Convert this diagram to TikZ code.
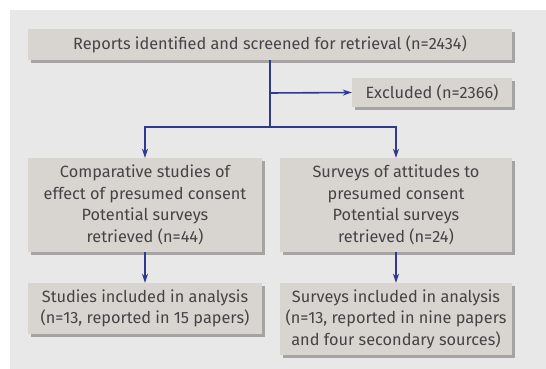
\documentclass[tikz,border=0pt]{standalone}
\usepackage{fontspec}
\setmainfont{Fira Sans}
\usetikzlibrary{arrows.meta}
\definecolor{bgc}{HTML}{E8E8E8}
\definecolor{boxc}{HTML}{D8D4D0}
\definecolor{shadc}{HTML}{A6A4A2}
\definecolor{linec}{HTML}{2E3A8C}
\definecolor{txtc}{HTML}{444444}
\tikzset{
  pbox/.style={fill=boxc, inner sep=0pt, text=txtc, font=\fontsize{16.3}{21.5}\selectfont, align=center},
  conn/.style={draw=linec, line width=1.6pt},
  arr/.style={conn, -{Stealth[length=9pt,width=6pt]}},
}
\newcommand{\pboxat}[6]{% name, x1, y1, x2, y2, text
  \fill[shadc] (#2+3,-#3-3) rectangle (#4+3,-#5-3);
  \node[pbox, minimum width=#4-#2, minimum height=#5-#3] (#1) at ({(#2+#4)/2},{-(#3+#5)/2}) {#6};
}
\begin{document}
\begin{tikzpicture}[x=1pt,y=1pt]
\useasboundingbox (0,0) rectangle (546,-369);
\fill[bgc] (10,-10) rectangle (546,-369);
\pboxat{top}{28}{29}{512}{60}{Reports identified and screened for retrieval (n=2434)}
\pboxat{excl}{352}{78}{512}{107}{Excluded (n=2366)}
\pboxat{cmp}{28}{158}{262}{252}{Comparative studies of\\effect of presumed consent\\Potential surveys\\retrieved (n=44)}
\pboxat{srv}{280}{158}{512}{252}{Surveys of attitudes to\\presumed consent\\Potential surveys\\retrieved (n=24)}
\pboxat{sinc}{28}{283}{262}{334}{Studies included in analysis\\(n=13, reported in 15 papers)}
\pboxat{vinc}{280}{283}{512}{355}{Surveys included in analysis\\(n=13, reported in nine papers\\and four secondary sources)}
\coordinate (split) at (270,-127);
\coordinate (ex) at (270,-93);
\coordinate (lft) at (145,-127);
\coordinate (rgt) at (396,-127);
\draw[conn] (top.south -| split) -- (split);
\draw[arr] (ex) -- (excl.west);
\draw[arr] (split) -- (lft) -- (lft |- cmp.north);
\draw[arr] (split) -- (rgt) -- (rgt |- srv.north);
\draw[arr] (cmp.south -| lft) -- (lft |- sinc.north);
\draw[arr] (srv.south -| rgt) -- (rgt |- vinc.north);
\end{tikzpicture}
\end{document}
